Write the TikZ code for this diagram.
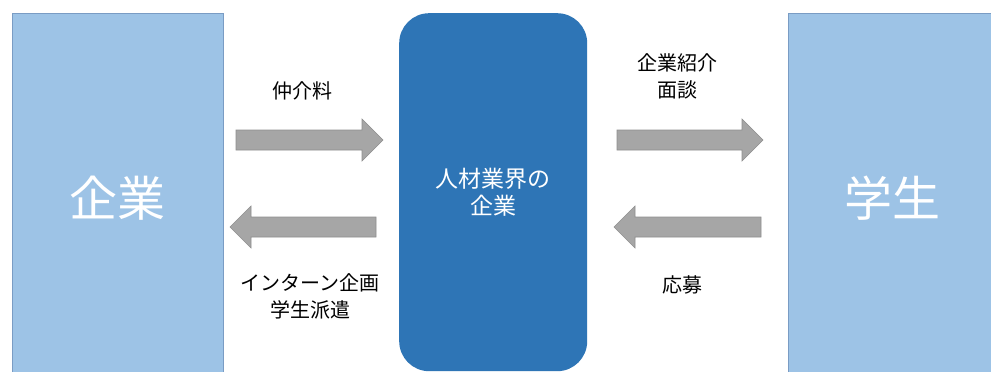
\documentclass[tikz,border=0pt]{standalone}
\usepackage{fontspec}
\newfontfamily\jpfont{Noto Sans CJK JP}
\usetikzlibrary{calc}
\definecolor{lightbox}{HTML}{9DC3E6}
\definecolor{lightedge}{HTML}{7A9CC4}
\definecolor{midbox}{HTML}{2E75B6}
\definecolor{arrowfill}{HTML}{A6A6A6}
\definecolor{arrowedge}{HTML}{8E8E8E}
\tikzset{
  sidebox/.style={rectangle, fill=lightbox, draw=lightedge, line width=0.8pt, anchor=north west,
    inner sep=0pt, text=white, font=\jpfont\fontsize{48}{52}\selectfont},
  midnode/.style={rectangle, rounded corners=30pt, fill=midbox, draw=none, anchor=north west,
    inner sep=0pt, text=white, align=center, font=\jpfont\fontsize{23}{27}\selectfont},
  lbl/.style={text=black, align=center, inner sep=0pt, font=\jpfont\fontsize{20}{27}\selectfont},
  fatarrow/.style={fill=arrowfill, draw=arrowedge, line width=0.6pt, line join=miter}
}
\newcommand{\fatarrow}[3]{%
  \filldraw[fatarrow] ($(#1)+(0,-10)$) -- ($(#2)+({-21*(#3)},-10)$) -- ($(#2)+({-21*(#3)},-21)$)
    -- (#2) -- ($(#2)+({-21*(#3)},21)$) -- ($(#2)+({-21*(#3)},10)$) -- ($(#1)+(0,10)$) -- cycle;}
\begin{document}
\begin{tikzpicture}[x=1pt,y=-1pt]
\useasboundingbox (0,0) rectangle (991,372);
\clip (0,0) rectangle (991,372);
\fill[white] (0,0) rectangle (991,372);
% boxes
\node[sidebox, minimum width=211pt, minimum height=370pt] (ent) at (12,13) {企業};
\node[midnode, minimum width=188pt, minimum height=358pt] (agent) at (399,13) {人材業界の\\企業};
\node[sidebox, minimum width=208pt, minimum height=370pt] (stu) at (788,13) {学生};
% arrow end points
\coordinate (a1s) at (236,140); \coordinate (a1e) at (383,140);
\coordinate (a2s) at (376,227); \coordinate (a2e) at (230,227);
\coordinate (a3s) at (617,140); \coordinate (a3e) at (763,140);
\coordinate (a4s) at (761,227); \coordinate (a4e) at (614,227);
\fatarrow{a1s}{a1e}{1}
\fatarrow{a2s}{a2e}{-1}
\fatarrow{a3s}{a3e}{1}
\fatarrow{a4s}{a4e}{-1}
% labels
\node[lbl] (l1) at (302,91) {仲介料};
\node[lbl] (l2) at (310,296.5) {インターン企画\\学生派遣};
\node[lbl] (l3) at (677,76.5) {企業紹介\\面談};
\node[lbl] (l4) at (682,285) {応募};
\end{tikzpicture}
\end{document}
